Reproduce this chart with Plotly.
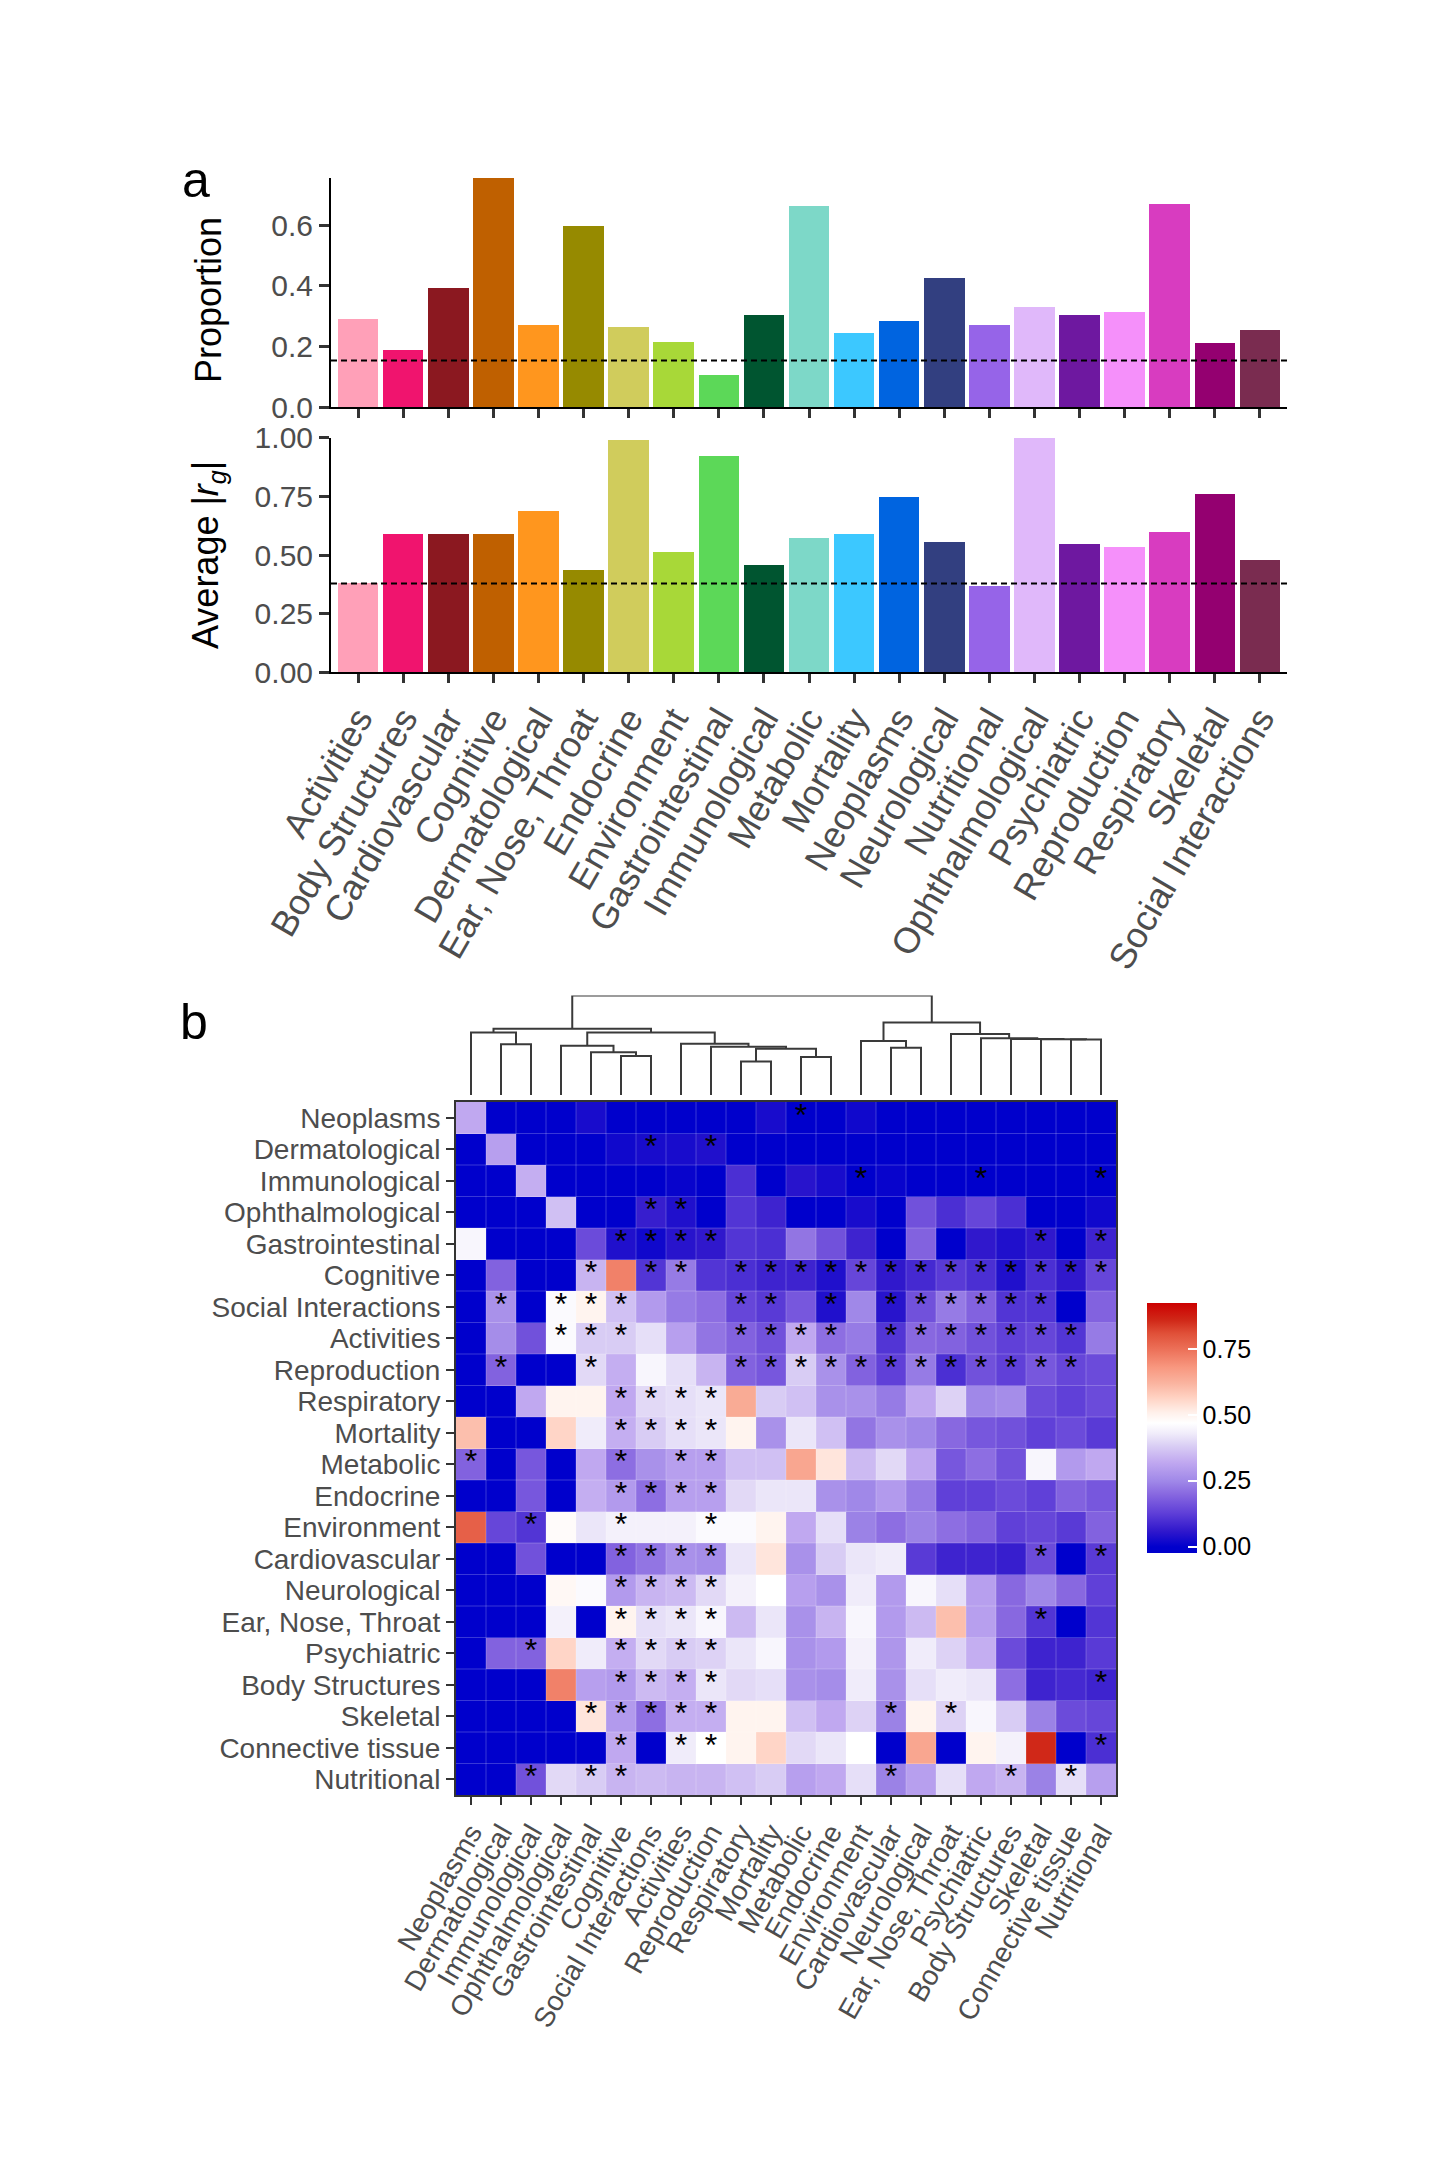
import plotly.graph_objects as go

# page has an 8px body margin; the figure is sized to fit the 1444x2182 window
PAGE_MARGIN = 8
W, H = 1444 - 2 * PAGE_MARGIN, 2182 - 2 * PAGE_MARGIN
FONT = "Liberation Sans, Arial, sans-serif"

# ---------------- panel a data ----------------
bar_categories = ["Activities", "Body Structures", "Cardiovascular", "Cognitive", "Dermatological",
                  "Ear, Nose, Throat", "Endocrine", "Environment", "Gastrointestinal", "Immunological",
                  "Metabolic", "Mortality", "Neoplasms", "Neurological", "Nutritional",
                  "Ophthalmological", "Psychiatric", "Reproduction", "Respiratory", "Skeletal",
                  "Social Interactions"]
bar_colors = ["#FFA0B8", "#F0146E", "#8B1820", "#BF6000", "#FF961E", "#968A00", "#D0CC5C",
              "#A8D838", "#5CD858", "#005530", "#7DD8C8", "#3CC8FF", "#0064E0", "#323F80",
              "#9664E8", "#E0B8FA", "#6E18A0", "#F590FA", "#D83CC0", "#940070", "#7A2C50"]
proportion = [0.290, 0.189, 0.393, 0.756, 0.271, 0.598, 0.265, 0.215, 0.107, 0.304, 0.665,
              0.245, 0.284, 0.426, 0.271, 0.332, 0.304, 0.314, 0.671, 0.212, 0.255]
avg_rg = [0.382, 0.589, 0.592, 0.589, 0.687, 0.439, 0.990, 0.513, 0.923, 0.460, 0.572,
          0.589, 0.749, 0.557, 0.369, 1.000, 0.550, 0.534, 0.601, 0.763, 0.482]
proportion_ref = 0.154
avg_rg_ref = 0.379
proportion_ticks = [0.0, 0.2, 0.4, 0.6]
avg_rg_ticks = [0.0, 0.25, 0.5, 0.75, 1.0]

# ---------------- panel b data ----------------
heat_labels = ["Neoplasms", "Dermatological", "Immunological", "Ophthalmological", "Gastrointestinal",
               "Cognitive", "Social Interactions", "Activities", "Reproduction", "Respiratory",
               "Mortality", "Metabolic", "Endocrine", "Environment", "Cardiovascular",
               "Neurological", "Ear, Nose, Throat", "Psychiatric", "Body Structures", "Skeletal",
               "Connective tissue", "Nutritional"]
heat_values = [
    [0.32, 0, 0, 0, 0.03, 0, 0, 0, 0, 0, 0.03, 0, 0, 0.02, 0, 0, 0, 0, 0, 0, 0, 0],
    [0, 0.30, 0, 0, 0, 0.02, 0.03, 0.03, 0.04, 0, 0, 0, 0, 0, 0, 0, 0, 0, 0, 0, 0, 0],
    [0, 0, 0.33, 0, 0, 0, 0, 0.01, 0, 0.10, 0, 0.05, 0.03, 0, 0.01, 0, 0, 0, 0, 0, 0, 0],
    [0, 0, 0, 0.36, 0, 0, 0.07, 0.04, 0, 0.11, 0.08, 0, 0, 0.03, 0, 0.16, 0.10, 0.14, 0.10, 0, 0, 0.02],
    [0.45, 0, 0, 0, 0.15, 0.04, 0.02, 0.05, 0.06, 0.11, 0.10, 0.22, 0.16, 0.08, 0, 0.19, 0, 0.06, 0.04, 0.06, 0, 0.08],
    [0, 0.19, 0, 0, 0.34, 0.72, 0.11, 0.23, 0.11, 0.10, 0.08, 0.08, 0.04, 0.14, 0.06, 0.09, 0.12, 0.10, 0.04, 0.10, 0.06, 0.14],
    [0, 0.27, 0, 0.46, 0.50, 0.36, 0.29, 0.23, 0.21, 0.14, 0.12, 0.17, 0.04, 0.25, 0.05, 0.16, 0.23, 0.19, 0.11, 0.11, 0, 0.19],
    [0, 0.26, 0.16, 0.46, 0.38, 0.38, 0.41, 0.30, 0.22, 0.19, 0.16, 0.32, 0.21, 0.23, 0.11, 0.20, 0.19, 0.16, 0.13, 0.14, 0.11, 0.23],
    [0, 0.19, 0, 0, 0.40, 0.33, 0.45, 0.41, 0.34, 0.19, 0.17, 0.38, 0.27, 0.19, 0.13, 0.23, 0.10, 0.16, 0.13, 0.17, 0.14, 0.15],
    [0, 0, 0.32, 0.50, 0.50, 0.32, 0.40, 0.41, 0.42, 0.64, 0.38, 0.36, 0.27, 0.27, 0.23, 0.32, 0.39, 0.25, 0.26, 0.15, 0.13, 0.15],
    [0.60, 0, 0, 0.56, 0.43, 0.33, 0.38, 0.41, 0.42, 0.50, 0.27, 0.42, 0.36, 0.22, 0.27, 0.25, 0.20, 0.17, 0.16, 0.13, 0.15, 0.12],
    [0.19, 0, 0.17, 0, 0.32, 0.21, 0.27, 0.30, 0.30, 0.36, 0.36, 0.65, 0.53, 0.35, 0.40, 0.32, 0.17, 0.21, 0.16, 0.45, 0.29, 0.32],
    [0, 0, 0.17, 0, 0.33, 0.29, 0.21, 0.30, 0.30, 0.40, 0.42, 0.42, 0.27, 0.25, 0.29, 0.23, 0.13, 0.13, 0.15, 0.13, 0.19, 0.17],
    [0.78, 0.14, 0.11, 0.48, 0.42, 0.44, 0.44, 0.44, 0.46, 0.46, 0.50, 0.32, 0.41, 0.24, 0.21, 0.24, 0.21, 0.19, 0.13, 0.14, 0.12, 0.19],
    [0, 0, 0.16, 0, 0, 0.19, 0.22, 0.27, 0.26, 0.42, 0.53, 0.27, 0.38, 0.42, 0.43, 0.12, 0.08, 0.08, 0.07, 0.15, 0, 0.12],
    [0, 0, 0, 0.49, 0.46, 0.29, 0.34, 0.35, 0.40, 0.44, 0.47, 0.30, 0.27, 0.43, 0.29, 0.45, 0.41, 0.30, 0.20, 0.25, 0.20, 0.13],
    [0, 0, 0, 0.44, 0, 0.50, 0.41, 0.42, 0.45, 0.35, 0.42, 0.27, 0.34, 0.45, 0.29, 0.35, 0.60, 0.30, 0.20, 0.11, 0, 0.11],
    [0, 0.19, 0.19, 0.56, 0.43, 0.33, 0.40, 0.38, 0.39, 0.42, 0.45, 0.27, 0.29, 0.44, 0.28, 0.43, 0.39, 0.33, 0.15, 0.08, 0.08, 0.12],
    [0, 0, 0, 0.72, 0.30, 0.29, 0.35, 0.33, 0.42, 0.40, 0.41, 0.27, 0.26, 0.43, 0.27, 0.41, 0.43, 0.42, 0.21, 0.08, 0.09, 0.08],
    [0, 0, 0, 0, 0.53, 0.29, 0.21, 0.33, 0.33, 0.50, 0.50, 0.36, 0.32, 0.39, 0.24, 0.50, 0.39, 0.45, 0.38, 0.24, 0.15, 0.14],
    [0, 0, 0, 0, 0, 0.32, 0, 0.43, 0.47, 0.50, 0.56, 0.40, 0.42, 0.47, 0, 0.65, 0, 0.50, 0.44, 0.86, 0, 0.10],
    [0, 0, 0.16, 0.40, 0.38, 0.34, 0.35, 0.34, 0.34, 0.36, 0.38, 0.30, 0.32, 0.41, 0.24, 0.30, 0.41, 0.32, 0.34, 0.24, 0.41, 0.30],
]
# column indices of significant cells ("*") per row
heat_stars = [
    [11],
    [6, 8],
    [13, 17, 21],
    [6, 7],
    [5, 6, 7, 8, 19, 21],
    [4, 6, 7, 9, 10, 11, 12, 13, 14, 15, 16, 17, 18, 19, 20, 21],
    [1, 3, 4, 5, 9, 10, 12, 14, 15, 16, 17, 18, 19],
    [3, 4, 5, 9, 10, 11, 12, 14, 15, 16, 17, 18, 19, 20],
    [1, 4, 9, 10, 11, 12, 13, 14, 15, 16, 17, 18, 19, 20],
    [5, 6, 7, 8],
    [5, 6, 7, 8],
    [0, 5, 7, 8],
    [5, 6, 7, 8],
    [2, 5, 8],
    [5, 6, 7, 8, 19, 21],
    [5, 6, 7, 8],
    [5, 6, 7, 8, 19],
    [2, 5, 6, 7, 8],
    [5, 6, 7, 8, 21],
    [4, 5, 6, 7, 8, 14, 16],
    [5, 7, 8, 21],
    [2, 4, 5, 14, 18, 20],
]
# dendrogram merges over columns: (left child, right child, height); leaves 0..21, merged nodes 22..
dendro_merges = [
    (9, 10, 0.336), (11, 12, 0.383), (5, 6, 0.393), (4, 24, 0.430), (22, 23, 0.466),
    (14, 15, 0.476), (8, 26, 0.486), (3, 25, 0.496), (1, 2, 0.510), (7, 28, 0.516),
    (13, 27, 0.543), (20, 21, 0.557), (19, 33, 0.561), (18, 34, 0.564), (17, 35, 0.571),
    (16, 36, 0.612), (0, 30, 0.628), (29, 31, 0.628), (38, 39, 0.665), (32, 37, 0.728),
    (40, 41, 1.000),
]
cs_values = [-0.023, 0.0, 0.06, 0.13, 0.2, 0.25, 0.32, 0.38, 0.43, 0.47, 0.51, 0.57, 0.62, 0.68,
             0.75, 0.81, 0.86, 0.925]
cs_colors = ["#0000CC", "#0000CC", "#3018CC", "#6040D8", "#8868E0", "#A088E8", "#C0A8F0", "#D8CCF4",
             "#F0ECFA", "#FFFFFF", "#FFF0EA", "#FFD0C0", "#FAB4A0", "#F89880", "#EC7058", "#E05038",
             "#D02818", "#CC0000"]
cbar_ticks = [0.0, 0.25, 0.5, 0.75]


def px_x(x):
    return (x - PAGE_MARGIN) / W


def px_y(y):
    return 1 - (y - PAGE_MARGIN) / H


fig = go.Figure()

# panel a bars
fig.add_trace(go.Bar(x=bar_categories, y=proportion, marker=dict(color=bar_colors, line=dict(width=0)),
                     width=0.9, xaxis="x", yaxis="y", showlegend=False))
fig.add_trace(go.Bar(x=bar_categories, y=avg_rg, marker=dict(color=bar_colors, line=dict(width=0)),
                     width=0.9, xaxis="x2", yaxis="y2", showlegend=False))

# heatmap
zmin, zmax = cs_values[0], cs_values[-1]
colorscale = [[(v - zmin) / (zmax - zmin), c] for v, c in zip(cs_values, cs_colors)]
n = len(heat_labels)
fig.add_trace(go.Heatmap(
    z=heat_values, x=list(range(n)), y=list(range(n)), colorscale=colorscale,
    zmin=zmin, zmax=zmax, xaxis="x3", yaxis="y3",
    colorbar=dict(x=px_x(1147), xanchor="left", y=px_y(1427.7), yanchor="middle",
                  len=250, lenmode="pixels", thickness=50, thicknessmode="pixels",
                  outlinewidth=0, xpad=0, ypad=0,
                  tickvals=cbar_ticks, ticktext=["%.2f" % t for t in cbar_ticks],
                  ticks="inside", ticklen=9, tickwidth=2, tickcolor="white",
                  tickfont=dict(family=FONT, size=25, color="black")),
))

# stars
sx, sy = [], []
for r, cols in enumerate(heat_stars):
    for c in cols:
        sx.append(c)
        sy.append(r)
fig.add_trace(go.Scatter(x=sx, y=sy, mode="text", text=["*"] * len(sx),
                         textfont=dict(family=FONT, size=32, color="black"),
                         xaxis="x3", yaxis="y3", showlegend=False, hoverinfo="skip"))

# dendrogram
centers = {i: float(i) for i in range(n)}
heights = {i: 0.0 for i in range(n)}
dx, dy = [], []
for k, (a, b, h) in enumerate(dendro_merges):
    node = n + k
    ca, cb = centers[a], centers[b]
    dx += [ca, ca, cb, cb, None]
    dy += [heights[a], h, h, heights[b], None]
    centers[node] = (ca + cb) / 2
    heights[node] = h
fig.add_trace(go.Scatter(x=dx, y=dy, mode="lines", line=dict(color="#3a3a3a", width=2),
                         xaxis="x4", yaxis="y4", showlegend=False, hoverinfo="skip",
                         cliponaxis=False))

# cell separator lines
shapes = []
for i in range(1, n):
    shapes.append(dict(type="line", xref="x3", yref="y3", x0=i - 0.5, x1=i - 0.5, y0=-0.5, y1=n - 0.5,
                       line=dict(color="rgba(255,255,255,0.22)", width=1), layer="above"))
    shapes.append(dict(type="line", xref="x3", yref="y3", y0=i - 0.5, y1=i - 0.5, x0=-0.5, x1=n - 0.5,
                       line=dict(color="rgba(255,255,255,0.22)", width=1), layer="above"))
# reference dashed lines
shapes.append(dict(type="line", xref="x domain", yref="y", x0=0, x1=1, y0=proportion_ref, y1=proportion_ref,
                   line=dict(color="black", width=2, dash="6px,4px"), layer="above"))
shapes.append(dict(type="line", xref="x2 domain", yref="y2", x0=0, x1=1, y0=avg_rg_ref, y1=avg_rg_ref,
                   line=dict(color="black", width=2, dash="6px,4px"), layer="above"))

tick_font = dict(family=FONT, size=30, color="#4D4D4D")
bar_x_common = dict(type="category", range=[-0.6, len(bar_categories) - 0.4], showline=True,
                    linecolor="black", linewidth=2, ticks="outside", ticklen=9, tickwidth=2.5,
                    tickcolor="#333333", showgrid=False, zeroline=False, automargin=False,
                    tickmode="array", tickvals=bar_categories, ticktext=bar_categories)
bar_y_common = dict(showline=True, linecolor="black", linewidth=2, ticks="outside", ticklen=10,
                    tickwidth=3, tickcolor="#333333", showgrid=False, zeroline=False,
                    tickfont=tick_font, automargin=False)

fig.update_layout(
    template="plotly_white",
    width=W, height=H, autosize=False,
    margin=dict(l=0, r=0, t=0, b=0, pad=0, autoexpand=False),
    paper_bgcolor="white", plot_bgcolor="white",
    font=dict(family=FONT),
    showlegend=False,
    bargap=0,
    xaxis=dict(domain=[px_x(331), px_x(1287)], anchor="y", showticklabels=False, **bar_x_common),
    yaxis=dict(domain=[px_y(407.3), px_y(178)], anchor="x", range=[0, max(proportion)],
               tickvals=proportion_ticks, ticktext=["%.1f" % t for t in proportion_ticks], **bar_y_common),
    xaxis2=dict(domain=[px_x(331), px_x(1287)], anchor="y2", tickangle=-60,
                tickfont=dict(family=FONT, size=36, color="#4D4D4D"), **bar_x_common),
    yaxis2=dict(domain=[px_y(672.3), px_y(437.7)], anchor="x2", range=[0, 1.0],
                tickvals=avg_rg_ticks, ticktext=["%.2f" % t for t in avg_rg_ticks], **bar_y_common),
    xaxis3=dict(domain=[px_x(456), px_x(1116)], anchor="y3", range=[-0.5, n - 0.5],
                tickmode="array", tickvals=list(range(n)), ticktext=heat_labels, tickangle=-60,
                tickfont=dict(family=FONT, size=28, color="#4D4D4D"),
                ticks="outside", ticklen=8, tickwidth=2, tickcolor="#333333",
                showline=True, mirror=True, linecolor="#333333", linewidth=2,
                showgrid=False, zeroline=False, automargin=False),
    yaxis3=dict(domain=[px_y(1795), px_y(1102)], anchor="x3", range=[n - 0.5, -0.5],
                tickmode="array", tickvals=list(range(n)), ticktext=heat_labels,
                tickfont=dict(family=FONT, size=28, color="#4D4D4D"),
                ticks="outside", ticklen=8, tickwidth=2, tickcolor="#333333",
                showline=True, mirror=True, linecolor="#333333", linewidth=2,
                showgrid=False, zeroline=False, automargin=False),
    xaxis4=dict(domain=[px_x(456), px_x(1116)], anchor="y4", range=[-0.5, n - 0.5], visible=False,
                automargin=False),
    yaxis4=dict(domain=[px_y(1095), px_y(995.5)], anchor="x4", range=[0, 1.0], visible=False,
                automargin=False),
    shapes=shapes,
    annotations=[
        dict(text="a", x=px_x(180), y=px_y(180), xref="paper", yref="paper", xanchor="left",
             yanchor="middle", showarrow=False, font=dict(family=FONT, size=50, color="black")),
        dict(text="b", x=px_x(178), y=px_y(1022), xref="paper", yref="paper", xanchor="left",
             yanchor="middle", showarrow=False, font=dict(family=FONT, size=50, color="black")),
        dict(text="Proportion", x=px_x(208), y=px_y(300), xref="paper", yref="paper",
             xanchor="center", yanchor="middle", textangle=-90, showarrow=False,
             font=dict(family=FONT, size=36, color="black")),
        dict(text="Average |<i>r</i><sub><i>g</i></sub>|", x=px_x(208), y=px_y(555), xref="paper",
             yref="paper", xanchor="center", yanchor="middle", textangle=-90, showarrow=False,
             font=dict(family=FONT, size=36, color="black")),
    ],
)

fig.write_html("out.html")
